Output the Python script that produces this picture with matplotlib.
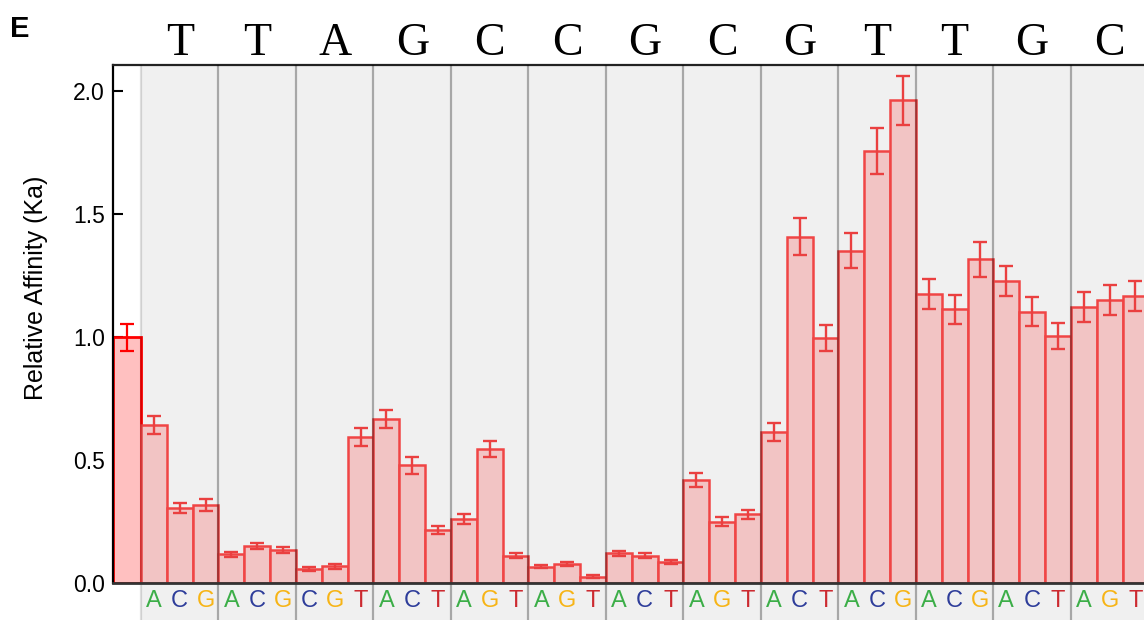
import matplotlib
matplotlib.use("Agg")
import matplotlib.pyplot as plt
from matplotlib.patches import Rectangle
import matplotlib.transforms as mtransforms

# Wild-type site sequence (one letter per position) and the substituted bases
positions = list("TTAGCCGCGTTGC")
variants = ["ACG", "ACG", "CGT", "ACT", "AGT", "AGT", "ACT",
            "AGT", "ACT", "ACG", "ACG", "ACT", "AGT"]

# Reference (wild-type) affinity
ref_value = 1.00
ref_err = 0.055

# Relative affinity of each substitution, grouped by position
values = [
    [0.642, 0.305, 0.317],
    [0.117, 0.150, 0.133],
    [0.058, 0.068, 0.593],
    [0.667, 0.478, 0.215],
    [0.259, 0.545, 0.111],
    [0.066, 0.079, 0.025],
    [0.121, 0.110, 0.085],
    [0.420, 0.249, 0.279],
    [0.614, 1.408, 0.995],
    [1.351, 1.757, 1.963],
    [1.173, 1.113, 1.316],
    [1.228, 1.103, 1.004],
    [1.122, 1.150, 1.167],
]
errors = [
    [0.037, 0.022, 0.024],
    [0.010, 0.012, 0.012],
    [0.009, 0.010, 0.038],
    [0.038, 0.033, 0.015],
    [0.020, 0.033, 0.011],
    [0.007, 0.008, 0.006],
    [0.010, 0.010, 0.009],
    [0.028, 0.018, 0.019],
    [0.036, 0.074, 0.053],
    [0.070, 0.094, 0.100],
    [0.061, 0.058, 0.071],
    [0.062, 0.060, 0.053],
    [0.060, 0.060, 0.061],
]

base_colors = {"A": "#3cae48", "C": "#2e3d9a", "G": "#f7b416", "T": "#cc2a30"}

plt.rcParams["font.family"] = ["Liberation Sans", "DejaVu Sans"]

fig = plt.figure(figsize=(11.44, 6.20), dpi=100)
ax = fig.add_axes([113 / 1144, 37 / 620, 1 - 113 / 1144, (583 - 65) / 620])

ymax = 2.106
ymin_band = -0.16
ax.set_ylim(0, ymax)
ax.set_xlim(-1.084, 38.83)
ax.set_facecolor("white")

# Shaded band behind the substitution bars, running down into the label strip
ax.add_patch(Rectangle((0, ymin_band), 45, ymax - ymin_band,
                       facecolor="#f0f0f0", edgecolor="none",
                       zorder=0, clip_on=False))

# Reference bar
ax.bar(-0.542, ref_value, width=1.084, color="#ffc0c0",
       edgecolor="#ff0000", linewidth=2.0, zorder=2)
ax.errorbar(-0.542, ref_value, yerr=ref_err, fmt="none", ecolor="#ff0000",
            elinewidth=1.6, capsize=5, capthick=1.6, zorder=3)

# Substitution bars
xs, ys, es = [], [], []
for k, (vals, errs) in enumerate(zip(values, errors)):
    for j, (v, e) in enumerate(zip(vals, errs)):
        xs.append(3 * k + j + 0.5)
        ys.append(v)
        es.append(e)
ax.bar(xs, ys, width=1.0, color="#f2c4c4", edgecolor="#f04545",
       linewidth=1.8, zorder=2)
ax.errorbar(xs, ys, yerr=es, fmt="none", ecolor="#ea4040",
            elinewidth=1.7, capsize=5, capthick=1.7, zorder=3)

# Group separators
for k in range(len(positions) + 1):
    a = 0.13 if k == 0 else 0.3
    ax.plot([3 * k, 3 * k], [ymin_band, ymax], color="black", alpha=a,
            linewidth=1.6, zorder=4, clip_on=False, solid_capstyle="butt")

# Position letters above the axes
top_tr = mtransforms.blended_transform_factory(ax.transData, ax.transAxes)
for k, base in enumerate(positions):
    ax.text(3 * k + 1.5, 1 + 10 / 518, base, transform=top_tr,
            ha="center", va="baseline", fontsize=33,
            family="Liberation Serif", color="black", clip_on=False)

# Substituted base letters below the axes
for k, var in enumerate(variants):
    for j, b in enumerate(var):
        ax.text(3 * k + j + 0.5, -0.074, b, ha="center", va="center",
                fontsize=17, color=base_colors[b], clip_on=False)

# Axes styling
ax.spines["right"].set_visible(False)
ax.spines["left"].set_linewidth(1.6)
ax.spines["left"].set_color("black")
ax.spines["top"].set_linewidth(1.6)
ax.spines["top"].set_color("#222222")
ax.spines["bottom"].set_linewidth(2.0)
ax.spines["bottom"].set_color("#333333")
ax.spines["bottom"].set_zorder(5)

ax.set_xticks([])
ax.set_yticks([0.0, 0.5, 1.0, 1.5, 2.0])
ax.set_yticklabels(["0.0", "0.5", "1.0", "1.5", "2.0"])
ax.tick_params(axis="y", direction="in", length=7.5, width=1.5,
               labelsize=16.5, pad=6)
ax.set_ylabel("Relative Affinity (Ka)", fontsize=18)
ax.yaxis.set_label_coords(-0.063, 0.569)

fig.text(10 / 1144, 1 - 37 / 620, "E", fontsize=21, fontweight="bold",
         ha="left", va="baseline")

fig.savefig("out.png", dpi=100)
